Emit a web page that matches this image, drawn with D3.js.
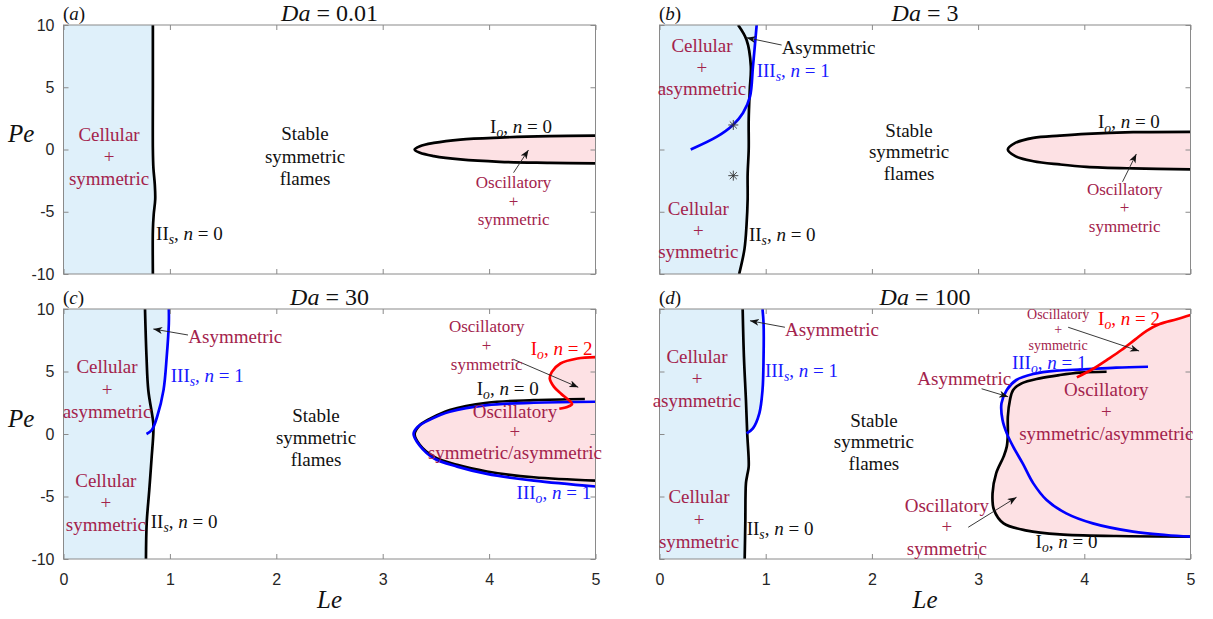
<!DOCTYPE html>
<html><head><meta charset="utf-8">
<script src="https://cdn.jsdelivr.net/npm/d3@7"></script>
<style>body{margin:0;background:#fff}svg{display:block}text{white-space:pre}</style>
</head><body>
<svg id="chart" width="1213" height="619"></svg>
<script>
// ---------------- data ----------------
const leTicks = [0, 1, 2, 3, 4, 5];
const peTicks = [-10, -5, 0, 5, 10];
const panelLetters = ["a", "b", "c", "d"];
const daValues = ["0.01", "3", "30", "100"];

// panel (a) Da = 0.01
const a_IIs = [[0.84,10],[0.84,5],[0.84,0],[0.845,-1.5],[0.858,-2.8],[0.862,-4],[0.848,-5.2],[0.84,-6.5],[0.84,-10]];
const a_Io0 = [[5,1.12],[4.57,1.07],[4.10,0.96],[3.73,0.80],[3.48,0.53],[3.35,0.27],[3.30,0],[3.35,-0.27],[3.48,-0.53],[3.73,-0.80],[4.10,-0.99],[4.57,-1.07],[5,-1.12]];

// panel (b) Da = 3
const b_IIs = [[0.74,10],[0.82,8.8],[0.86,6.7],[0.85,4.8],[0.84,2.4],[0.84,0],[0.83,-2],[0.83,-4],[0.82,-6],[0.80,-8],[0.75,-10]];
const b_IIIs = [[0.294,0],[0.541,1.03],[0.692,1.97],[0.786,2.93],[0.852,4.24],[0.88,6.65],[0.915,10]];
const b_Io0 = [[5,1.42],[4.46,1.39],[4.02,1.26],[3.77,1.12],[3.52,0.94],[3.35,0.53],[3.28,0],[3.35,-0.53],[3.52,-0.94],[3.77,-1.2],[4.02,-1.39],[4.46,-1.52],[5,-1.6]];
const b_stars = [[0.695,1.97],[0.695,-2.1]];

// panel (c) Da = 30
const c_IIs = [[0.766,10],[0.78,6.2],[0.797,3.5],[0.844,0.85],[0.844,0],[0.829,-1.8],[0.806,-4.5],[0.782,-7.1],[0.775,-10]];
const c_IIIs = [[0.78,0],[0.83,0.32],[0.88,1.38],[0.94,3.51],[0.97,6.17],[0.99,8.83],[0.99,10]];
const c_Io0 = [[4.90,2.8],[4.42,2.71],[3.98,2.5],[3.63,1.92],[3.45,1.25],[3.35,0.72],[3.30,0],[3.35,-0.88],[3.48,-1.81],[3.70,-2.47],[3.98,-3.0],[4.42,-3.46],[5.0,-3.73]];
const c_IIIo = [[5.0,2.58],[4.42,2.5],[3.98,2.31],[3.63,1.78],[3.45,1.17],[3.33,0.58],[3.29,0],[3.35,-0.96],[3.48,-1.94],[3.70,-2.61],[3.98,-3.19],[4.42,-3.73],[5.0,-4.2]];
const c_Io2 = [[5.0,6.15],[4.83,6.04],[4.67,5.64],[4.59,4.97],[4.57,4.45],[4.61,3.77],[4.68,3.19],[4.75,2.71],[4.78,2.4],[4.74,2.18],[4.66,2.02]];

// panel (d) Da = 100
const d_IIs = [[0.783,10],[0.795,6.17],[0.814,2.71],[0.826,0.05],[0.84,-2.6],[0.826,-3.3],[0.814,-3.93],[0.808,-7.13],[0.802,-10]];
const d_IIIs = [[0.82,0.05],[0.88,0.45],[0.94,1.65],[0.97,3.51],[0.98,6.17],[0.98,8.83],[0.97,10]];
const d_Io0 = [[4.21,4.98],[3.96,4.91],[3.77,4.72],[3.58,4.45],[3.41,4.05],[3.33,3.52],[3.30,2.72],[3.28,1.38],[3.28,0.05],[3.27,-1.01],[3.24,-1.81],[3.17,-3.15],[3.136,-4.75],[3.15,-6.08],[3.24,-7.15],[3.46,-7.73],[3.77,-8.03],[4.30,-8.16],[5.0,-8.21]];
const d_IIIo = [[4.60,5.38],[4.30,5.31],[3.99,5.17],[3.74,5.07],[3.52,4.8],[3.36,4.32],[3.27,3.52],[3.22,2.45],[3.23,1.12],[3.27,0.05],[3.33,-1.01],[3.42,-2.35],[3.52,-3.95],[3.645,-5.28],[3.83,-6.35],[4.08,-7.15],[4.46,-7.81],[4.77,-8.08],[5.0,-8.21]];
const d_Io2 = [[3.93,4.53],[4.08,5.2],[4.22,5.97],[4.35,6.72],[4.48,7.57],[4.59,8.27],[4.71,8.8],[4.87,9.18],[5.0,9.52]];

// ---------------- styles ----------------
const BLACK = "#000", BLUE = "#0000ff", RED = "#ff0000";
const TXT_RED = "#a3234c", TXT_BLUE = "#1a1aff", TXT_BLACK = "#111";
const FILL_BLUE = "#dff0fa", FILL_PINK = "#fde1e4";
const SERIF = "'Liberation Serif','Times New Roman',serif";
const SANS = "'Liberation Sans',Arial,sans-serif";

const panels = [
  {x0:63.5, x1:595.5, y0:25, y1:274, xLab:false, yLab:true,
   blueFill:[a_IIs], pinkFill:[a_Io0],
   lines:[{d:a_IIs,c:BLACK},{d:a_Io0,c:BLACK}], stars:[],
   notes:[
     {t:["Cellular","+","symmetric"], le:0.428, pe:0.71, lh:22.2, c:TXT_RED},
     {t:["II_s, *n* = 0"], le:0.87, pe:-7.27, a:"start", c:TXT_BLACK},
     {t:["Stable","symmetric","flames"], le:2.27, pe:0.76, lh:22.5, c:TXT_BLACK},
     {t:["I_o, *n* = 0"], le:4.30, pe:1.30, c:TXT_BLACK},
     {t:["Oscillatory","+","symmetric"], le:4.23, pe:-3.12, lh:18.3, c:TXT_RED, fs:17}
   ],
   arrows:[[4.23,-1.86,4.37,-0.04]]},
  {x0:659.5, x1:1190.5, y0:25, y1:274, xLab:false, yLab:false,
   blueFill:[b_IIs,b_IIIs], pinkFill:[b_Io0],
   lines:[{d:b_IIs,c:BLACK},{d:b_IIIs,c:BLUE},{d:b_Io0,c:BLACK}], stars:b_stars,
   notes:[
     {t:["Cellular","+","asymmetric"], le:0.40, pe:7.81, lh:21.35, c:TXT_RED},
     {t:["Cellular","+","symmetric"], le:0.365, pe:-5.26, lh:21.65, c:TXT_RED},
     {t:["Asymmetric"], le:1.15, pe:7.67, a:"start", c:TXT_BLACK},
     {t:["III_s, *n* = 1"], le:0.915, pe:5.85, a:"start", c:TXT_BLUE},
     {t:["II_s, *n* = 0"], le:0.842, pe:-7.33, a:"start", c:TXT_BLACK},
     {t:["Stable","symmetric","flames"], le:2.35, pe:1.03, lh:21.65, c:TXT_BLACK},
     {t:["I_o, *n* = 0"], le:4.42, pe:1.70, c:TXT_BLACK},
     {t:["Oscillatory","+","symmetric"], le:4.38, pe:-3.65, lh:18.3, c:TXT_RED, fs:17}
   ],
   arrows:[[1.15,8.39,0.82,8.98],[4.36,-2.59,4.49,-0.36]]},
  {x0:63.5, x1:595.5, y0:309, y1:559, xLab:true, yLab:true,
   blueFill:[c_IIs,c_IIIs], pinkFill:[c_Io0,c_IIIo,c_Io2],
   lines:[{d:c_IIs,c:BLACK},{d:c_IIIs,c:BLUE},{d:c_Io0,c:BLACK},{d:c_IIIo,c:BLUE},{d:c_Io2,c:RED}], stars:[],
   notes:[
     {t:["Asymmetric"], le:1.173, pe:7.26, a:"start", c:TXT_RED},
     {t:["Cellular","+","asymmetric"], le:0.409, pe:4.86, lh:22.5, c:TXT_RED},
     {t:["Cellular","+","symmetric"], le:0.398, pe:-4.26, lh:21.7, c:TXT_RED},
     {t:["III_s, *n* = 1"], le:1.008, pe:4.18, a:"start", c:TXT_BLUE},
     {t:["II_s, *n* = 0"], le:0.82, pe:-7.54, a:"start", c:TXT_BLACK},
     {t:["Stable","symmetric","flames"], le:2.373, pe:0.98, lh:22.2, c:TXT_BLACK},
     {t:["Oscillatory","+","symmetric"], le:3.977, pe:8.18, lh:19.15, c:TXT_RED, fs:17},
     {t:["I_o, *n* = 2"], le:4.682, pe:6.32, c:RED},
     {t:["I_o, *n* = 0"], le:4.175, pe:3.10, c:TXT_BLACK},
     {t:["Oscillatory","+","symmetric/asymmetric"], le:4.243, pe:1.32, lh:20.8, c:TXT_RED},
     {t:["III_o, *n* = 1"], le:4.609, pe:-5.22, c:TXT_BLUE}
   ],
   arrows:[[1.17,7.92,0.844,8.4],[4.227,5.98,4.838,3.74]]},
  {x0:659.5, x1:1190.5, y0:309, y1:559, xLab:true, yLab:false,
   blueFill:[d_IIs,d_IIIs], pinkFill:[d_Io0,d_IIIo,d_Io2],
   lines:[{d:d_IIs,c:BLACK},{d:d_IIIs,c:BLUE},{d:d_Io0,c:BLACK},{d:d_IIIo,c:BLUE},{d:d_Io2,c:RED}], stars:[],
   notes:[
     {t:["Asymmetric"], le:1.181, pe:7.84, a:"start", c:TXT_RED},
     {t:["Cellular","+","asymmetric"], le:0.353, pe:5.70, lh:22.3, c:TXT_RED},
     {t:["Cellular","+","symmetric"], le:0.372, pe:-5.54, lh:22.5, c:TXT_RED},
     {t:["III_s, *n* = 1"], le:0.993, pe:4.54, a:"start", c:TXT_BLUE},
     {t:["II_s, *n* = 0"], le:0.821, pe:-8.08, a:"start", c:TXT_BLACK},
     {t:["Stable","symmetric","flames"], le:2.019, pe:0.58, lh:21.65, c:TXT_BLACK},
     {t:["Oscillatory","+","symmetric"], le:3.754, pe:9.22, lh:15.6, c:TXT_RED, fs:14},
     {t:["I_o, *n* = 2"], le:4.421, pe:8.72, c:RED},
     {t:["III_o, *n* = 1"], le:3.67, pe:5.22, c:TXT_BLUE},
     {t:["Asymmetric"], le:2.87, pe:3.95, c:TXT_RED},
     {t:["Oscillatory","+","symmetric/asymmetric"], le:4.207, pe:3.04, lh:22, c:TXT_RED},
     {t:["Oscillatory","+","symmetric"], le:2.706, pe:-6.22, lh:21.65, c:TXT_RED},
     {t:["I_o, *n* = 0"], le:3.833, pe:-9.14, c:TXT_BLACK}
   ],
   arrows:[[1.181,8.54,0.852,9.06],[3.848,8.54,4.516,6.64],[3.033,3.62,3.283,2.98],[2.907,-7.46,3.362,-5.06]]}
];

// ---------------- drawing ----------------
const svg = d3.select("#chart");
const defs = svg.append("defs");
defs.append("marker").attr("id","arr").attr("markerUnits","userSpaceOnUse")
  .attr("markerWidth",10).attr("markerHeight",8).attr("refX",9).attr("refY",3.5)
  .attr("orient","auto").attr("viewBox","0 0 10 8")
  .append("path").attr("d","M0,0 L9,3.5 L0,7 L2.5,3.5 Z").attr("fill","#111");

function rich(textSel, str, fs){
  const segs = []; let it = false, buf = "";
  for (let i = 0; i < str.length; i++){
    const ch = str[i];
    if (ch === "*"){ if (buf){ segs.push({t:buf,it,sub:false}); buf=""; } it = !it; continue; }
    if (ch === "_"){ if (buf){ segs.push({t:buf,it,sub:false}); buf=""; } segs.push({t:str[i+1],it:true,sub:true}); i++; continue; }
    buf += ch;
  }
  if (buf) segs.push({t:buf,it,sub:false});
  let shifted = false; const sh = fs*0.22;
  segs.forEach(s => {
    const ts = textSel.append("tspan").text(s.t);
    if (s.it) ts.attr("font-style","italic");
    if (s.sub){ ts.attr("font-size", fs*0.72).attr("dy", sh); shifted = true; }
    else if (shifted){ ts.attr("dy", -sh); shifted = false; }
  });
}

const curve = d3.curveCatmullRom.alpha(0.5);
const tickFmt = d => String(d);

panels.forEach((p, i) => {
  const x = d3.scaleLinear().domain([0,5]).range([p.x0, p.x1]);
  const y = d3.scaleLinear().domain([-10,10]).range([p.y1, p.y0]);
  const line = d3.line().x(d => x(d[0])).y(d => y(d[1])).curve(curve);
  const g = svg.append("g");
  const cid = "clip" + i;
  defs.append("clipPath").attr("id", cid).append("rect")
    .attr("x", p.x0).attr("y", p.y0).attr("width", p.x1 - p.x0).attr("height", p.y1 - p.y0);
  const inner = g.append("g").attr("clip-path", `url(#${cid})`);

  // light-blue cellular region: left of each boundary curve
  p.blueFill.forEach(d => {
    const f = d[0], l = d[d.length-1];
    inner.append("path").attr("fill", FILL_BLUE).attr("stroke","none")
      .attr("d", line(d) + `L${x(0)},${y(l[1])}L${x(0)},${y(f[1])}Z`);
  });
  // pink oscillatory region: right of each curve, closed along Le = 5
  p.pinkFill.forEach(d => {
    const f = d[0], l = d[d.length-1];
    inner.append("path").attr("fill", FILL_PINK).attr("stroke","none")
      .attr("d", line(d) + `L${x(5)},${y(l[1])}L${x(5)},${y(f[1])}Z`);
  });
  // curves
  p.lines.forEach(s => {
    inner.append("path").attr("d", line(s.d)).attr("fill","none")
      .attr("stroke", s.c).attr("stroke-width", 2.7).attr("stroke-linejoin","round");
  });
  // asterisk markers
  p.stars.forEach(s => {
    const cx = x(s[0]), cy = y(s[1]), r = 5, q = r*0.707;
    g.append("path").attr("fill","none").attr("stroke","#333").attr("stroke-width",0.9)
      .attr("d", `M${cx-r},${cy}L${cx+r},${cy}M${cx},${cy-r}L${cx},${cy+r}M${cx-q},${cy-q}L${cx+q},${cy+q}M${cx-q},${cy+q}L${cx+q},${cy-q}`);
  });

  // box + ticks
  const axCol = "#8a8a8a";
  const mk = (ax, tr, labels) => {
    const a = g.append("g").attr("transform", tr).call(ax);
    a.select(".domain").remove();
    a.selectAll(".tick line").attr("stroke", axCol).attr("stroke-width", 1);
    a.selectAll("text").attr("font-family", SANS).attr("font-size", 16).attr("fill", "#262626");
    if (!labels) a.selectAll("text").remove();
    return a;
  };
  mk(d3.axisBottom(x).tickValues(leTicks).tickSizeInner(-5).tickSizeOuter(0).tickPadding(14.5).tickFormat(tickFmt), `translate(0,${p.y1})`, p.xLab);
  mk(d3.axisTop(x).tickValues(leTicks).tickSizeInner(-5).tickSizeOuter(0), `translate(0,${p.y0})`, false);
  mk(d3.axisLeft(y).tickValues(peTicks).tickSizeInner(-5).tickSizeOuter(0).tickPadding(9).tickFormat(tickFmt), `translate(${p.x0},0)`, p.yLab);
  mk(d3.axisRight(y).tickValues(peTicks).tickSizeInner(-5).tickSizeOuter(0), `translate(${p.x1},0)`, false);
  g.append("rect").attr("x", p.x0).attr("y", p.y0).attr("width", p.x1 - p.x0).attr("height", p.y1 - p.y0)
    .attr("fill","none").attr("stroke", axCol).attr("stroke-width", 1);

  // arrows
  p.arrows.forEach(a => {
    g.append("line").attr("x1", x(a[0])).attr("y1", y(a[1])).attr("x2", x(a[2])).attr("y2", y(a[3]))
      .attr("stroke","#222").attr("stroke-width",0.9).attr("marker-end","url(#arr)");
  });

  // annotations
  p.notes.forEach(n => {
    const fs = n.fs || 19;
    n.t.forEach((ln, k) => {
      const t = g.append("text").attr("x", x(n.le)).attr("y", y(n.pe) + k*(n.lh || 0))
        .attr("text-anchor", n.a || "middle").attr("font-family", SERIF).attr("font-size", fs)
        .attr("fill", n.c);
      rich(t, ln, fs);
    });
  });

  // title & panel letter
  const tt = svg.append("text").attr("x", (p.x0 + p.x1)/2).attr("y", p.y0 - 4.5)
    .attr("text-anchor","middle").attr("font-family", SERIF).attr("font-size", 24).attr("fill","#111");
  rich(tt, "*Da* = " + daValues[i], 24);
  const lt = svg.append("text").attr("x", p.x0 - 0.5).attr("y", p.y0 - 5)
    .attr("font-family", SERIF).attr("font-size", 19).attr("fill","#111");
  rich(lt, "(*" + panelLetters[i] + "*)", 19);

  if (p.yLab){
    svg.append("text").attr("x", 8).attr("y", y(0) - 7.5).attr("font-family", SERIF)
      .attr("font-style","italic").attr("font-size", 25).attr("fill","#111").text("Pe");
  }
  if (p.xLab){
    svg.append("text").attr("x", (p.x0 + p.x1)/2).attr("y", 608).attr("text-anchor","middle")
      .attr("font-family", SERIF).attr("font-style","italic").attr("font-size", 25).attr("fill","#111").text("Le");
  }
});
</script>
</body></html>
